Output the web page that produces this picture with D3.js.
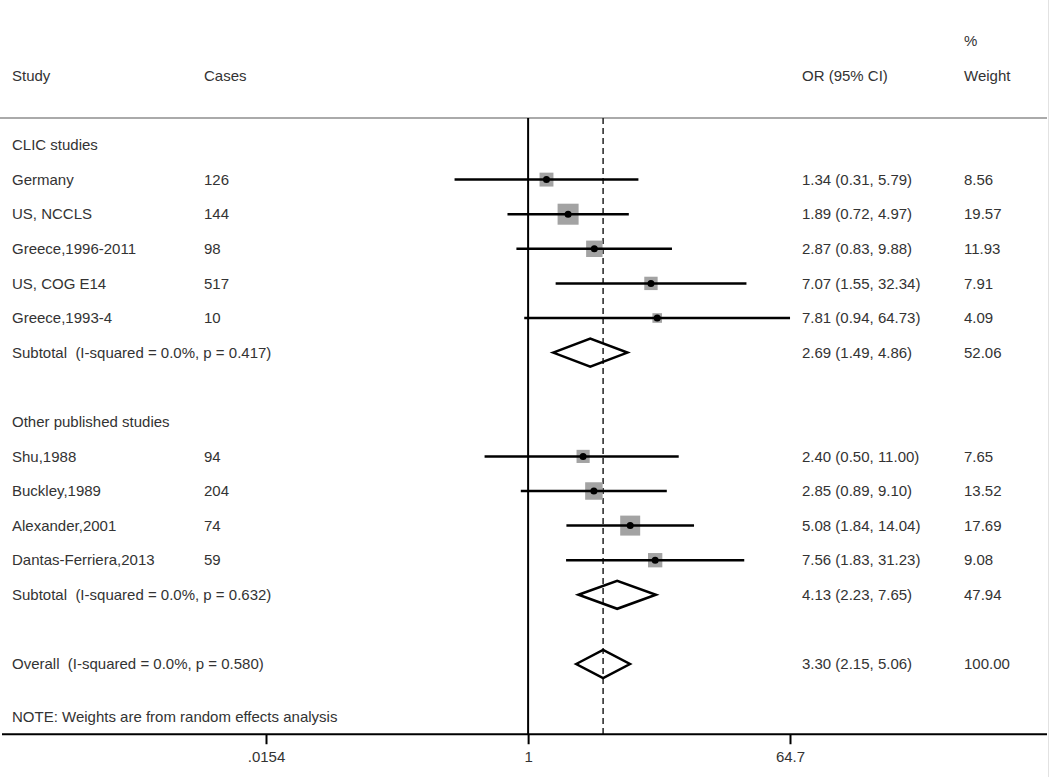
<!DOCTYPE html>
<html>
<head>
<meta charset="utf-8">
<script src="https://cdn.jsdelivr.net/npm/d3@7"></script>
<style>
  body { margin: 0; background: #fff; }
  svg text { font-family: "Liberation Sans", Arial, sans-serif; font-size: 15px; fill: #333; white-space: pre; }
</style>
</head>
<body>
<svg id="forest" width="1050" height="777"></svg>
<script>
// studies, in display order
let studies = ["Germany", "US, NCCLS", "Greece,1996-2011", "US, COG E14", "Greece,1993-4",
               "Shu,1988", "Buckley,1989", "Alexander,2001", "Dantas-Ferriera,2013"];
let cases = [126, 144, 98, 517, 10, 94, 204, 74, 59];
let orValues = [1.34, 1.89, 2.87, 7.07, 7.81, 2.40, 2.85, 5.08, 7.56];
let lowerCI = [0.31, 0.72, 0.83, 1.55, 0.94, 0.50, 0.89, 1.84, 1.83];
let upperCI = [5.79, 4.97, 9.88, 32.34, 64.73, 11.00, 9.10, 14.04, 31.23];
let weights = [8.56, 19.57, 11.93, 7.91, 4.09, 7.65, 13.52, 17.69, 9.08];
let studyRows = [1, 2, 3, 4, 5, 9, 10, 11, 12];

let groups = ["CLIC studies", "Other published studies"];
let groupRows = [0, 8];

let pooledLabels = ["Subtotal  (I-squared = 0.0%, p = 0.417)",
                    "Subtotal  (I-squared = 0.0%, p = 0.632)",
                    "Overall  (I-squared = 0.0%, p = 0.580)"];
let pooledOR = [2.69, 4.13, 3.30];
let pooledLower = [1.49, 2.23, 2.15];
let pooledUpper = [4.86, 7.65, 5.06];
let pooledWeights = [52.06, 47.94, 100.00];
let pooledRows = [6, 13, 15];

let tickValues = [0.0154, 1, 64.7];
let tickLabels = [".0154", "1", "64.7"];

let svg = d3.select("#forest");
let width = 1050;
let height = 777;

let x = d3.scaleLog().domain([0.0154, 64.7]).range([266, 790]);
let y = d3.scaleLinear().domain([0, 15]).range([145, 664]);

let fmt = d3.format(".2f");
let axisY = y(17.03);
let topY = y(-0.78);

let colStudy = 12, colCases = 204, colOR = 802, colWeight = 964;

function label(t, cx, cy) {
    return svg.append("text").attr("x", cx).attr("y", cy).attr("dy", "0.35em").text(t);
}

// faint frame edge on the right
svg.append("line")
    .attr("x1", 1048.5).attr("x2", 1048.5)
    .attr("y1", 0).attr("y2", height)
    .attr("stroke", "#e2e2e2").attr("stroke-width", 1);

// column headers
label("%", colWeight, y(-3));
[["Study", colStudy], ["Cases", colCases], ["OR (95% CI)", colOR], ["Weight", colWeight]]
    .forEach(([t, cx]) => label(t, cx, y(-2)));

svg.append("line")
    .attr("x1", 0).attr("x2", 1047)
    .attr("y1", topY).attr("y2", topY)
    .attr("stroke", "#aaa").attr("stroke-width", 2);

// null line and overall line
svg.append("line")
    .attr("x1", x(1)).attr("x2", x(1))
    .attr("y1", topY).attr("y2", axisY)
    .attr("stroke", "#000").attr("stroke-width", 2);

svg.append("line")
    .attr("x1", x(pooledOR[2])).attr("x2", x(pooledOR[2]))
    .attr("y1", topY).attr("y2", axisY)
    .attr("stroke", "#222").attr("stroke-width", 1.5)
    .attr("stroke-dasharray", "6,4");

groups.forEach((g, i) => label(g, colStudy, y(groupRows[i])));

// individual studies
studies.forEach((s, i) => {
    let cy = y(studyRows[i]);
    let side = 4.75 * Math.sqrt(weights[i]);

    svg.append("rect")
        .attr("x", x(orValues[i]) - side / 2).attr("y", cy - side / 2)
        .attr("width", side).attr("height", side)
        .attr("fill", "#a3a3a3");

    svg.append("line")
        .attr("x1", x(lowerCI[i])).attr("x2", x(upperCI[i]))
        .attr("y1", cy).attr("y2", cy)
        .attr("stroke", "#000").attr("stroke-width", 2.5);

    svg.append("circle")
        .attr("cx", x(orValues[i])).attr("cy", cy).attr("r", 3.5)
        .attr("fill", "#000");

    label(s, colStudy, cy);
    label(cases[i], colCases, cy);
    label(`${fmt(orValues[i])} (${fmt(lowerCI[i])}, ${fmt(upperCI[i])})`, colOR, cy);
    label(fmt(weights[i]), colWeight, cy);
});

// pooled estimates
pooledLabels.forEach((lab, i) => {
    let cy = y(pooledRows[i]);
    let h = 14;
    let pts = [
        [x(pooledLower[i]), cy],
        [x(pooledOR[i]), cy - h],
        [x(pooledUpper[i]), cy],
        [x(pooledOR[i]), cy + h]
    ];
    svg.append("path")
        .attr("d", d3.line()(pts) + "Z")
        .attr("fill", "none").attr("stroke", "#000").attr("stroke-width", 2.5);

    label(lab, colStudy, cy);
    label(`${fmt(pooledOR[i])} (${fmt(pooledLower[i])}, ${fmt(pooledUpper[i])})`, colOR, cy);
    label(fmt(pooledWeights[i]), colWeight, cy);
});

label("NOTE: Weights are from random effects analysis", colStudy, y(16.53));

// x axis
let axis = d3.axisBottom(x)
    .tickValues(tickValues)
    .tickFormat((d, i) => tickLabels[i])
    .tickSize(10)
    .tickPadding(7);

let gAxis = svg.append("g").attr("transform", `translate(0,${axisY})`).call(axis);
gAxis.select(".domain").remove();
gAxis.selectAll(".tick line").attr("stroke", "#000").attr("stroke-width", 2);
gAxis.selectAll(".tick text")
    .style("font-family", '"Liberation Sans", Arial, sans-serif')
    .style("font-size", "15px").attr("fill", "#333");

svg.append("line")
    .attr("x1", 2).attr("x2", 1047)
    .attr("y1", axisY).attr("y2", axisY)
    .attr("stroke", "#000").attr("stroke-width", 2);
</script>
</body>
</html>
